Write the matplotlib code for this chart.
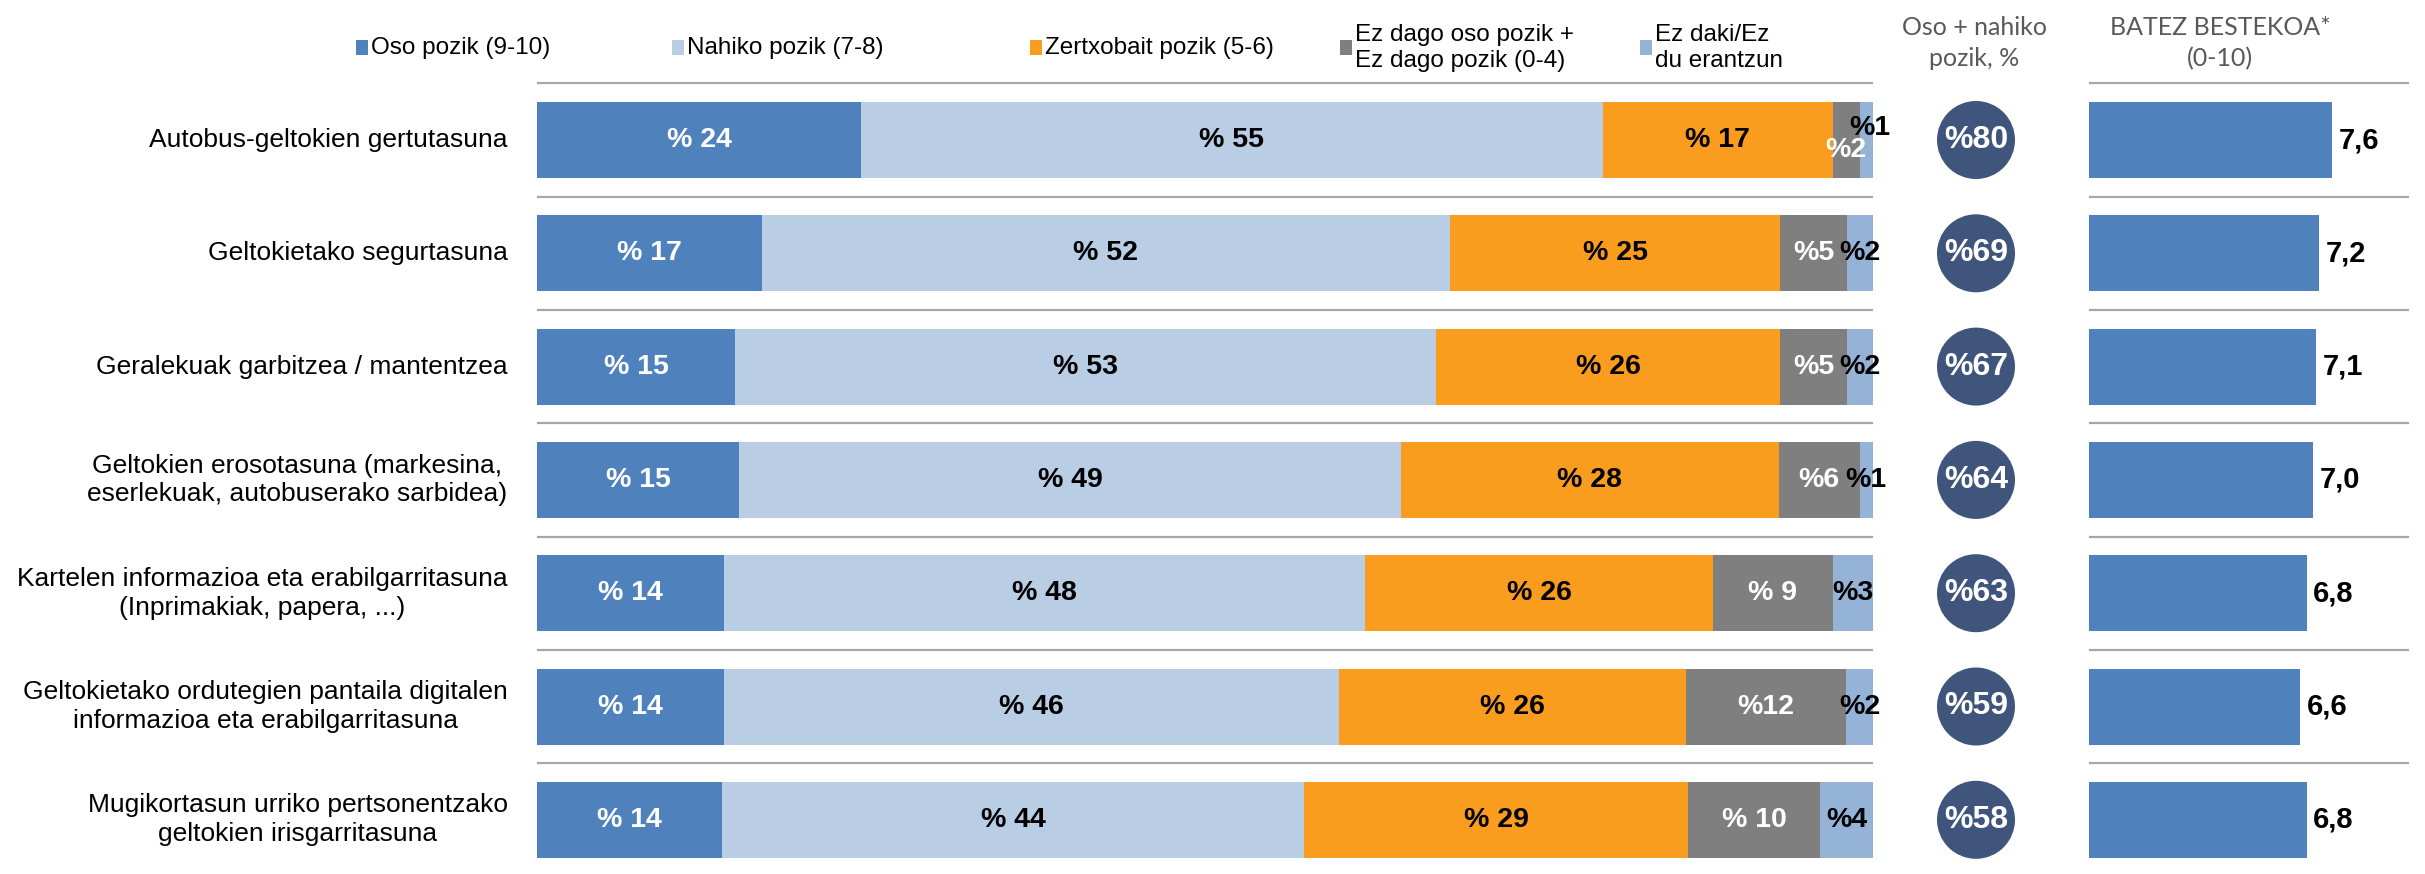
import matplotlib.pyplot as plt
from matplotlib.patches import Ellipse, Rectangle

# --- data ---
categories = [
    "Autobus-geltokien gertutasuna",
    "Geltokietako segurtasuna",
    "Geralekuak garbitzea / mantentzea",
    "Geltokien erosotasuna (markesina,\neserlekuak, autobuserako sarbidea)",
    "Kartelen informazioa eta erabilgarritasuna\n(Inprimakiak, papera, ...)",
    "Geltokietako ordutegien pantaila digitalen\ninformazioa eta erabilgarritasuna",
    "Mugikortasun urriko pertsonentzako\ngeltokien irisgarritasuna",
]
oso_pozik = [24, 17, 15, 15, 14, 14, 14]
nahiko_pozik = [55, 52, 53, 49, 48, 46, 44]
zertxobait = [17, 25, 26, 28, 26, 26, 29]
ez_pozik = [2, 5, 5, 6, 9, 12, 10]
ez_daki = [1, 2, 2, 1, 3, 2, 4]
ez_pozik_labels = ["%2", "%5", "%5", "%6", "% 9", "%12", "% 10"]
oso_nahiko = [80, 69, 67, 64, 63, 59, 58]
batez_bestekoa = [7.6, 7.2, 7.1, 7.0, 6.8, 6.6, 6.8]

legend_names = ["Oso pozik (9-10)", "Nahiko pozik (7-8)", "Zertxobait pozik (5-6)",
                "Ez dago oso pozik +\nEz dago pozik (0-4)", "Ez daki/Ez\ndu erantzun"]
colors = ["#4F81BD", "#B9CDE5", "#FA9C1E", "#7F7F7F", "#95B3D7"]
text_colors = ["white", "black", "black", "white", "black"]

W, H = 2425, 874
plt.rcParams['font.family'] = ['Liberation Sans', 'DejaVu Sans']
fig = plt.figure(figsize=(W / 100, H / 100), dpi=100)

# row geometry (pixels)
row0 = 140
pitch = 113.3
bar_h = 76 / pitch
ylim = ((H - row0) / pitch, -row0 / pitch)
n = len(categories)

# --- main stacked bars ---
ax = fig.add_axes([537 / W, 0, (1873 - 537) / W, 1])
ax.set_xlim(0, 100)
ax.set_ylim(*ylim)
ax.axis('off')

series = [oso_pozik, nahiko_pozik, zertxobait, ez_pozik, ez_daki]
for i in range(n):
    vals = [s[i] for s in series]
    tot = sum(vals)
    left = 0
    for j, v in enumerate(vals):
        w = v / tot * 100
        ax.barh(i, w, left=left, height=bar_h, color=colors[j], linewidth=0)
        if j < 3:
            lab = "% " + str(v)
        elif j == 3:
            lab = ez_pozik_labels[i]
        else:
            lab = "%" + str(v)
        dy = 0
        dx = 0
        if vals[3] < 3 and vals[4] < 3:
            dy = 0.09 if j == 3 else (-0.11 if j == 4 else 0)
            dx = 0.3 if j == 4 else 0
        ax.text(left + w / 2 + dx, i + dy, lab, ha='center', va='center',
                color=text_colors[j], fontsize=20.5, fontweight='bold', clip_on=False)
        left += w
    ax.axhline(i - 0.5, color='#A6A6A6', lw=1.6)
    ax.text(-0.022, i, categories[i], transform=ax.get_yaxis_transform(),
            ha='right', va='center', multialignment='center', fontsize=19,
            linespacing=1.25)

# --- circles ---
cax = fig.add_axes([1937 / W, 0, 78 / W, 1])
cax.set_xlim(0, 1)
cax.set_ylim(*ylim)
cax.axis('off')
for i, v in enumerate(oso_nahiko):
    cax.add_patch(Ellipse((0.5, i), 1, 78 / pitch, color='#3F557C', lw=0))
    cax.text(0.5, i, "%" + str(v), ha='center', va='center', color='white',
             fontsize=23, fontweight='bold')

# --- average bars ---
rax = fig.add_axes([2089 / W, 0, (2409 - 2089) / W, 1])
rax.set_xlim(0, 10)
rax.set_ylim(*ylim)
rax.axis('off')
for i, v in enumerate(batez_bestekoa):
    rax.barh(i, v, height=bar_h, color='#4F81BD', linewidth=0)
    rax.text(v + 0.2, i, f"{v:.1f}".replace('.', ','), ha='left', va='center',
             fontsize=21, fontweight='bold', clip_on=False)
    rax.axhline(i - 0.5, color='#A6A6A6', lw=1.6)

# --- legend ---
marker_x = [356, 672, 1030, 1340, 1640]
for name, c, mx in zip(legend_names, colors, marker_x):
    fig.add_artist(Rectangle((mx / W, 1 - 55 / H), 12 / W, 15 / H,
                             transform=fig.transFigure, color=c, lw=0))
    fig.text((mx + 15) / W, 1 - 48 / H, name, ha='left', va='center',
             fontsize=17.5, linespacing=1.25)

# --- column headers ---
fig.text(1974 / W, 1 - 43 / H, "Oso + nahiko\npozik, %", ha='center', va='center',
         color='#595959', fontsize=18, linespacing=1.4, family=['Lato', 'DejaVu Sans'])
fig.text(2220 / W, 1 - 43 / H, "BATEZ BESTEKOA*\n(0-10)", ha='center', va='center',
         color='#595959', fontsize=18, linespacing=1.4, family=['Lato', 'DejaVu Sans'])

fig.savefig("out.png", dpi=100)
